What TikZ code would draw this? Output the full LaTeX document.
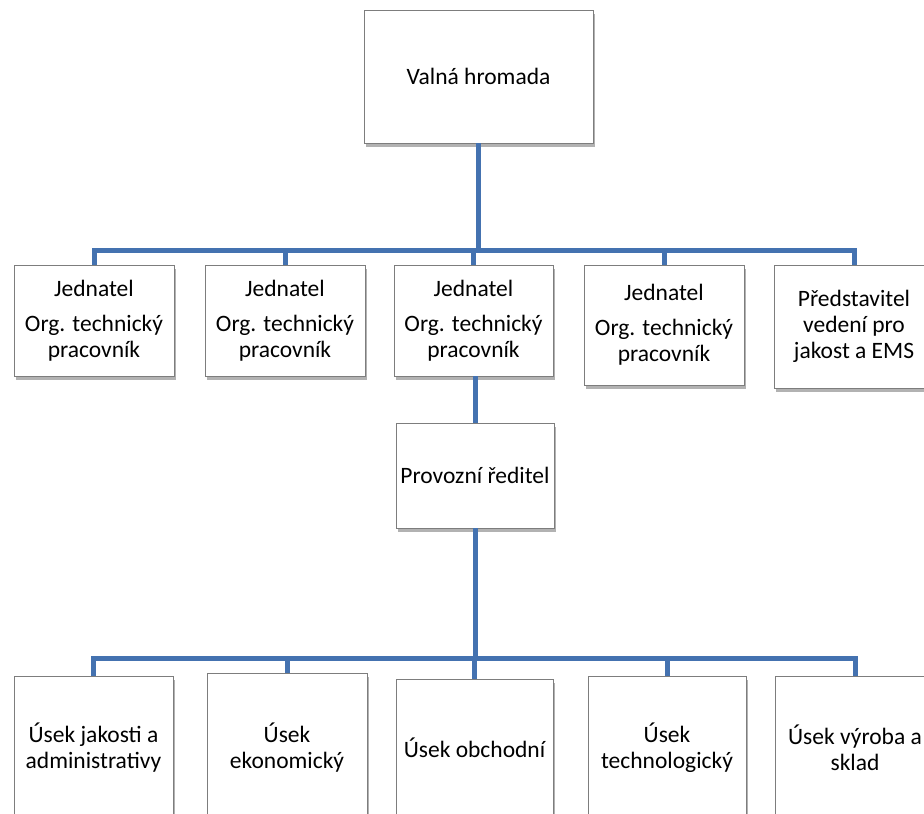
\documentclass[tikz,border=0pt]{standalone}
\usepackage{fontspec}
\setmainfont{Carlito}
\usetikzlibrary{shadows}
\definecolor{connblue}{RGB}{68,114,176}
\definecolor{bordgray}{RGB}{125,125,125}
\begin{document}
\begin{tikzpicture}[x=1pt,y=-1pt,
  orgbox/.style={draw=bordgray, line width=0.8pt, fill=white, inner sep=0pt,
    align=center, font=\fontsize{23.5}{26}\selectfont,
    drop shadow={shadow xshift=1.5pt, shadow yshift=-3.5pt, fill=black, opacity=0.3}},
  link/.style={draw=connblue, line width=5pt}]
\useasboundingbox (0,0) rectangle (924,814);
\clip (0,0) rectangle (924,814);

% top
\node[orgbox, minimum width=229pt, minimum height=133pt] (vh) at (478.5,76.5) {Valná hromada};

% row 1
\node[orgbox, minimum width=160pt, minimum height=111pt] (j1) at (94,320.5)
  {Jednatel\\[9pt]Org. technický\\pracovník};
\node[orgbox, minimum width=160pt, minimum height=111pt] (j2) at (285,320.5)
  {Jednatel\\[9pt]Org. technický\\pracovník};
\node[orgbox, minimum width=159pt, minimum height=111pt] (j3) at (473.5,320.5)
  {Jednatel\\[9pt]Org. technický\\pracovník};
\node[orgbox, minimum width=160pt, minimum height=120pt] (j4) at (664,325)
  {Jednatel\\[9pt]Org. technický\\pracovník};
\node[orgbox, minimum width=160pt, minimum height=123pt] (p5) at (854,326.5)
  {Představitel\\vedení pro\\jakost a EMS};

% middle
\node[orgbox, minimum width=158pt, minimum height=105pt] (pr) at (475,475.5) {Provozní ředitel};

% bottom row
\node[orgbox, minimum width=159pt, minimum height=144pt] (u1) at (93.5,748)
  {Úsek jakosti a\\administrativy};
\node[orgbox, minimum width=160pt, minimum height=150pt] (u2) at (287,748)
  {Úsek\\ekonomický};
\node[orgbox, minimum width=157pt, minimum height=138pt] (u3) at (474.5,748)
  {Úsek obchodní};
\node[orgbox, minimum width=158pt, minimum height=144pt] (u4) at (667,748)
  {Úsek\\technologický};
\node[orgbox, minimum width=160pt, minimum height=144pt] (u5) at (855,748)
  {Úsek výroba a\\sklad};

% connectors
\coordinate (bus1) at (478.5,250);
\foreach \n in {j1,j2,j3,j4,p5}
  \draw[link] (vh.south) -- (bus1) -| (\n.north);
\draw[link] (pr.north |- j3.south) -- (pr.north);
\coordinate (bus2) at (475,658);
\foreach \n in {u1,u2,u3,u4,u5}
  \draw[link] (pr.south) -- (bus2) -| (\n.north);
\end{tikzpicture}
\end{document}
